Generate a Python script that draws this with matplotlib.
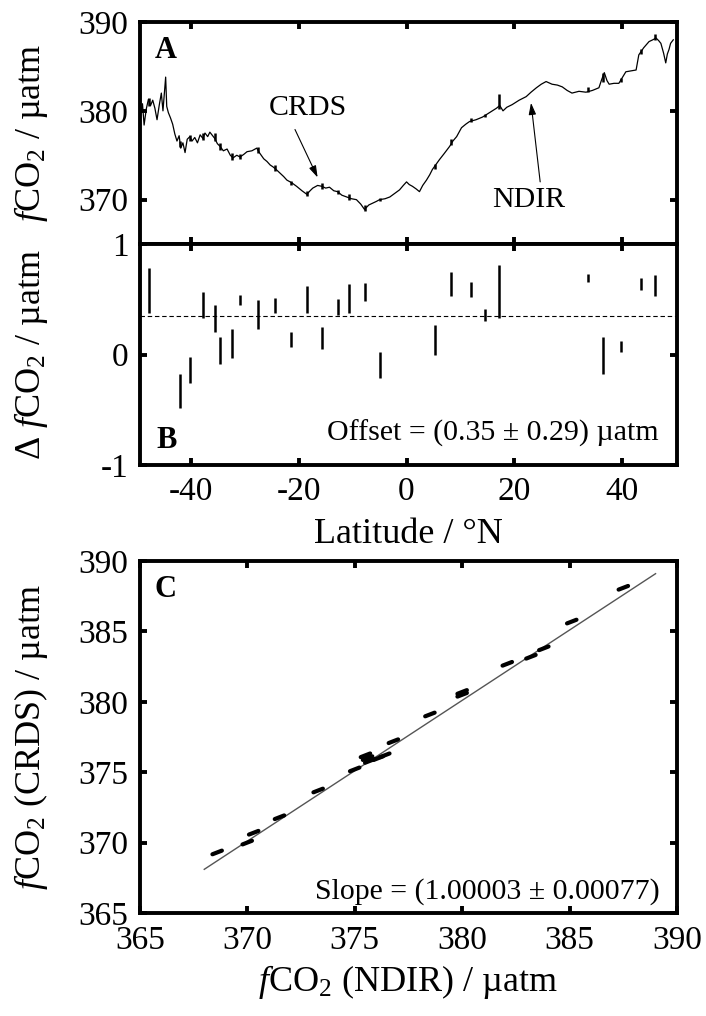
import matplotlib
matplotlib.use('Agg')
import matplotlib.pyplot as plt
import numpy as np

plt.rcParams['font.family'] = ['Liberation Serif', 'DejaVu Serif']
plt.rcParams['mathtext.fontset'] = 'custom'
plt.rcParams['mathtext.rm'] = 'Liberation Serif'
plt.rcParams['mathtext.it'] = 'Liberation Serif:italic'
plt.rcParams['mathtext.bf'] = 'Liberation Serif:bold'
plt.rcParams['axes.unicode_minus'] = False

# ---------------- Panel A data (NDIR trace) ----------------
lat_ndir = [-49.4, -49.0, -48.7, -48.3, -47.9, -47.5, -47.1, -46.7, -46.3, -45.9,
            -45.5, -45.2, -44.9, -44.7, -44.5, -44.2, -43.8, -43.4, -43.0, -42.6,
            -42.2, -41.9, -41.5, -41.1, -40.7, -40.2, -39.8, -39.3, -38.8, -38.3,
            -37.8, -37.4, -36.9, -36.5, -36.0, -35.6, -35.1, -34.6, -34.0, -33.3,
            -32.7, -32.2, -31.5, -30.9, -30.2, -29.6, -28.7, -27.8, -27.2, -26.5,
            -25.9, -25.3, -24.8, -24.2, -23.5, -22.8, -22.2, -21.3, -20.4, -19.4,
            -18.5, -17.9, -17.4, -16.5, -15.7, -15.0, -14.3, -13.5, -12.8, -12.0,
            -11.1, -10.2, -9.3, -8.5, -7.8, -7.0, -6.3, -5.6, -5.0, -4.0,
            -3.1, -2.2, -1.3, -0.6, 0.0, 0.5, 1.1, 1.8, 2.4, 3.0,
            3.7, 4.3, 4.8, 5.5, 6.1, 7.0, 8.0, 8.6, 9.3, 10.2,
            11.0, 11.7, 12.9, 14.1, 15.4, 16.7, 17.3, 17.9, 18.6, 19.6,
            20.9, 22.2, 23.1, 24.1, 25.0, 25.9, 27.0, 28.0, 28.9, 29.8,
            30.7, 32.0, 33.3, 34.5, 35.7, 36.2, 36.7, 37.2, 37.6, 38.5,
            39.4, 40.1, 40.7, 41.6, 42.6, 43.1, 44.0, 45.0, 45.7, 46.3,
            46.8, 47.2, 47.7, 48.1, 48.4, 48.7, 49.0, 49.5]
fco2_ndir = [379.5, 380.8, 378.4, 380.2, 381.3, 380.6, 381.2, 380.3, 379.0, 380.6,
             382.0, 380.0, 382.2, 383.8, 380.5, 379.8, 379.2, 378.5, 377.4, 376.6,
             377.2, 375.8, 376.4, 375.3, 376.8, 377.1, 376.6, 377.0, 376.4, 377.3,
             376.9, 377.5, 377.1, 377.6, 377.2, 376.9, 376.3, 376.0, 375.5, 375.7,
             375.0, 374.7, 375.0, 374.8, 375.1, 375.4, 375.5, 375.8, 375.2, 374.6,
             374.3, 373.9, 373.7, 373.4, 373.0, 372.6, 372.2, 371.9, 371.5, 371.0,
             370.6, 371.0, 371.3, 371.6, 371.5, 371.3, 371.4, 371.0, 370.9, 370.5,
             370.3, 370.1, 370.0, 369.5, 368.9, 369.4, 369.6, 369.8, 370.0, 370.1,
             370.3, 370.7, 371.1, 371.6, 372.0, 371.7, 371.5, 371.2, 370.9, 371.6,
             372.2, 372.8, 373.4, 374.0, 374.5, 375.2, 376.0, 376.6, 377.1, 378.1,
             378.5, 378.8, 379.0, 379.3, 379.8, 380.3, 380.6, 380.0, 380.4, 380.7,
             381.2, 381.6, 382.1, 382.6, 383.0, 383.3, 383.0, 382.9, 382.7, 382.3,
             382.0, 382.2, 382.1, 382.3, 382.6, 383.5, 384.3, 383.4, 383.0, 383.1,
             383.1, 383.8, 384.4, 384.5, 384.6, 386.3, 387.1, 387.8, 388.0, 388.2,
             387.9, 387.6, 386.5, 385.4, 386.4, 386.9, 387.6, 388.0]

# ---------------- CRDS segments (panel A) and differences (panel B) ----------------
lat_crds = [-47.8, -42.0, -40.2, -37.8, -35.6, -34.6, -32.4, -30.9, -27.6, -24.4,
            -21.5, -18.5, -15.6, -12.8, -10.6, -7.8, -5.0, 5.2, 8.3, 12.0,
            14.6, 17.2, 33.7, 36.5, 39.8, 43.5, 46.1]
crds_lo = [380.6, 375.9, 376.6, 376.7, 376.6, 375.6, 374.5, 374.6, 375.2, 373.2,
           371.6, 370.4, 371.2, 370.6, 370.0, 368.7, 369.8, 373.5, 376.1, 378.7,
           379.3, 380.2, 382.1, 383.3, 383.2, 386.4, 388.0]
crds_hi = [381.4, 376.6, 377.3, 377.5, 377.5, 376.4, 375.3, 375.1, 375.9, 373.9,
           372.1, 371.0, 371.9, 371.1, 370.6, 369.4, 370.2, 374.0, 376.8, 379.2,
           379.7, 381.9, 382.7, 384.3, 383.7, 387.0, 388.6]
delta_lo = [0.38, -0.48, -0.26, 0.33, 0.20, -0.09, -0.03, 0.45, 0.23, 0.38,
            0.07, 0.38, 0.05, 0.36, 0.38, 0.48, -0.21, 0.00, 0.53, 0.52,
            0.30, 0.33, 0.66, -0.18, 0.02, 0.58, 0.53]
delta_hi = [0.78, -0.18, -0.02, 0.57, 0.45, 0.16, 0.23, 0.54, 0.49, 0.51,
            0.20, 0.62, 0.25, 0.50, 0.64, 0.65, 0.02, 0.27, 0.75, 0.66,
            0.41, 0.81, 0.73, 0.16, 0.12, 0.69, 0.72]
offset = 0.35

# ---------------- Panel C data ----------------
c_ndir = [368.6, 370.3, 370.0, 371.5, 373.3, 375.0, 375.6, 376.1, 375.5, 375.7,
          376.4, 376.8, 378.5, 380.0, 380.0, 382.1, 383.2, 383.8, 385.1, 387.5]
c_crds = [369.3, 370.7, 370.0, 371.8, 373.7, 375.2, 376.0, 376.0, 376.2, 375.8,
          376.2, 377.2, 379.1, 380.5, 380.7, 382.7, 383.2, 383.8, 385.7, 388.1]
fit_slope = 1.00003
fit_intercept = 0.09
fit_range = [368.0, 389.0]

lat_ticks = [-40, -20, 0, 20, 40]

# ---------------- Figure ----------------
fig = plt.figure(figsize=(7.06, 10.16), dpi=100)
axA = fig.add_axes([0.198, 0.7598, 0.761, 0.2185])
axB = fig.add_axes([0.198, 0.5423, 0.761, 0.2175])
axC = fig.add_axes([0.198, 0.1014, 0.761, 0.3464])

TICK = 24
LAB = 26
NOTE = 21.5


def style(ax):
    for s in ax.spines.values():
        s.set_linewidth(2.8)
    ax.tick_params(direction='in', length=5, width=2.8, top=True, right=True,
                   labelsize=TICK, pad=8)


# Panel A
axA.plot(lat_ndir, fco2_ndir, color='black', lw=0.9)
axA.vlines(lat_crds, crds_lo, crds_hi, color='black', lw=1.8)
axA.set_xlim(-49.5, 50.2)
axA.set_ylim(365, 390)
axA.set_yticks([370, 380, 390])
axA.set_xticks(lat_ticks)
axA.set_xticklabels([])
style(axA)
axA.text(0.048, 0.874, 'A', transform=axA.transAxes, fontsize=22,
         fontweight='bold', ha='center', va='center')
arrow_kw = dict(arrowstyle='-|>,head_length=0.7,head_width=0.22', color='black',
                lw=0.8, shrinkA=0, shrinkB=0)
axA.annotate('', xy=(-16.5, 372.5), xytext=(-20.7, 377.9), arrowprops=arrow_kw)
axA.text(-18.3, 380.3, 'CRDS', fontsize=NOTE, ha='center', va='center')
axA.annotate('', xy=(23.1, 380.9), xytext=(24.8, 372.0), arrowprops=arrow_kw)
axA.text(22.6, 370.0, 'NDIR', fontsize=NOTE, ha='center', va='center')
axA.set_ylabel('$f$CO$_2$ / µatm', fontsize=LAB)
axA.yaxis.set_label_coords(-0.168, 0.5)

# Panel B
axB.vlines(lat_crds, delta_lo, delta_hi, color='black', lw=1.8)
axB.axhline(offset, color='black', lw=0.8, ls=(0, (4, 2.5)))
axB.set_xlim(-49.5, 50.2)
axB.set_ylim(-1, 1)
axB.set_yticks([-1, 0, 1])
axB.set_xticks(lat_ticks)
style(axB)
axB.text(0.05, 0.113, 'B', transform=axB.transAxes, fontsize=22,
         fontweight='bold', ha='center', va='center')
axB.text(0.966, 0.145, 'Offset = (0.35 ± 0.29) µatm', transform=axB.transAxes,
         fontsize=NOTE, ha='right', va='center')
axB.set_ylabel('Δ $f$CO$_2$ / µatm', fontsize=LAB)
axB.yaxis.set_label_coords(-0.168, 0.5)
axB.set_xlabel('Latitude / °N', fontsize=LAB, labelpad=8)

# Panel C
fx = np.array(fit_range)
axC.plot(fx, fit_slope * fx + fit_intercept, color='#555555', lw=1.0)
hx, hy = 0.22, 0.13
for x, y in zip(c_ndir, c_crds):
    axC.plot([x - hx, x + hx], [y - hy, y + hy], color='black', lw=3.0,
             solid_capstyle='round')
axC.set_xlim(365, 390)
axC.set_ylim(365, 390)
axC.set_xticks([365, 370, 375, 380, 385, 390])
axC.set_yticks([365, 370, 375, 380, 385, 390])
style(axC)
axC.tick_params(axis='x', pad=9)
axC.text(0.048, 0.918, 'C', transform=axC.transAxes, fontsize=22,
         fontweight='bold', ha='center', va='center')
axC.text(0.968, 0.06, 'Slope = (1.00003 ± 0.00077)', transform=axC.transAxes,
         fontsize=NOTE, ha='right', va='center')
axC.set_ylabel('$f$CO$_2$ (CRDS) / µatm', fontsize=LAB)
axC.yaxis.set_label_coords(-0.168, 0.5)
axC.set_xlabel('$f$CO$_2$ (NDIR) / µatm', fontsize=LAB, labelpad=5)

fig.savefig('out.png', dpi=100)
